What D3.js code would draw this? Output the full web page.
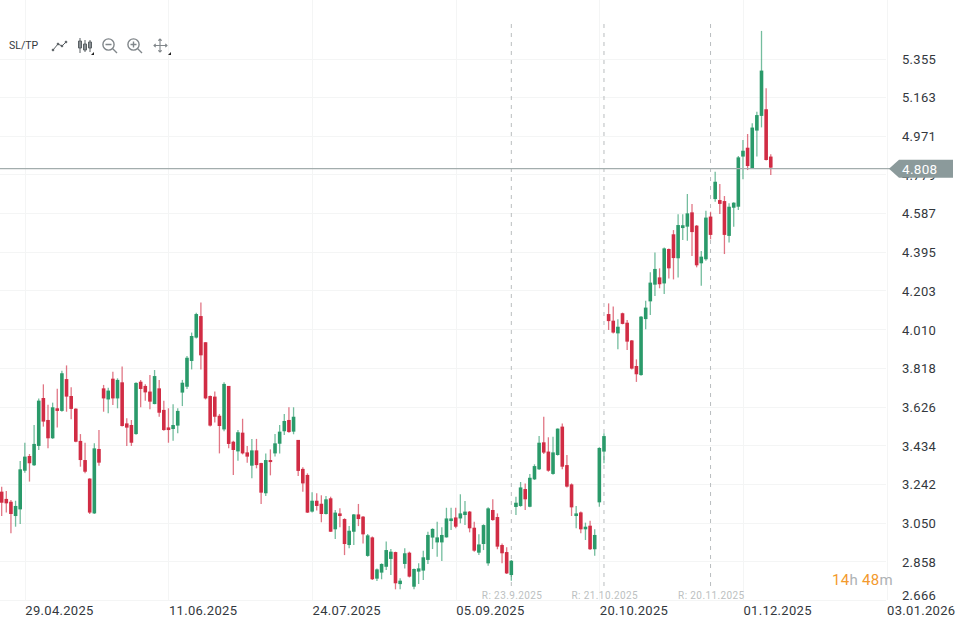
<!DOCTYPE html>
<html><head><meta charset="utf-8">
<style>
html,body{margin:0;padding:0;background:#fff}
svg{display:block}
text{font-family:Roboto,sans-serif}
.tick line,.domain{display:none}
</style>
<script src="https://cdn.jsdelivr.net/npm/d3@7"></script>
</head><body><svg id="c" width="966" height="623"></svg>
<script>
const opens=[3.204,3.168,3.154,3.083,3.116,3.308,3.381,3.335,3.431,3.669,3.560,3.469,3.618,3.605,3.763,3.679,3.616,3.456,3.361,3.269,3.096,3.416,3.717,3.662,3.765,3.667,3.747,3.543,3.535,3.490,3.750,3.729,3.701,3.639,3.717,3.610,3.523,3.515,3.532,3.696,3.725,3.853,3.969,
4.076,3.946,3.679,3.676,3.581,3.513,3.729,3.452,3.404,3.497,3.399,3.333,3.409,3.346,3.196,3.361,3.394,3.442,3.504,3.560,3.502,3.461,3.317,3.287,3.105,3.159,3.144,3.093,3.171,3.017,3.096,3.068,2.939,3.005,3.091,3.080,2.885,2.977,2.772,2.802,
2.831,2.870,2.904,2.745,2.845,2.901,2.732,2.807,2.812,2.865,2.976,2.952,2.952,2.977,3.058,3.076,3.071,3.088,3.105,3.025,2.901,2.944,2.848,3.113,3.078,2.939,2.904,2.790,3.128,3.133,3.217,3.129,3.265,3.315,3.449,3.403,3.292,3.386,3.527,3.336,3.240,3.083,3.101,3.017,3.035,2.918,3.151,3.403,
4.086,4.053,3.990,4.090,4.043,3.955,3.828,3.783,4.061,4.149,4.232,4.268,4.238,4.409,4.482,4.363,4.513,4.520,4.591,4.525,4.338,4.358,4.570,
4.657,4.652,4.647,4.474,4.614,4.619,4.868,4.912,4.810,4.997,5.070,5.103,4.868];
const closes=[3.149,3.146,3.093,3.133,3.315,3.378,3.345,3.441,3.656,3.552,3.469,3.623,3.605,3.792,3.676,3.615,3.452,3.361,3.303,3.100,3.419,3.348,3.667,3.706,3.667,3.759,3.530,3.522,3.447,3.744,3.714,3.697,3.651,3.778,3.596,3.510,3.510,3.535,3.605,3.745,3.869,3.977,4.086,
3.881,3.667,3.532,3.576,3.530,3.739,3.441,3.411,3.499,3.394,3.378,3.409,3.336,3.199,3.361,3.351,3.444,3.502,3.555,3.500,3.576,3.307,3.245,3.100,3.159,3.133,3.093,3.166,3.005,3.100,3.083,2.944,3.010,3.091,3.068,2.992,2.987,2.769,2.818,2.845,
2.914,2.906,2.749,2.762,2.898,2.782,2.820,2.823,2.878,2.989,3.019,2.977,2.989,3.071,3.071,3.030,3.096,3.105,3.022,2.911,2.942,3.038,3.121,3.063,2.931,2.898,2.798,2.861,3.149,3.225,3.166,3.273,3.331,3.447,3.398,3.308,3.399,3.517,3.328,3.229,3.126,3.096,3.017,3.030,2.918,2.989,3.421,3.480,
4.051,3.994,4.023,4.037,3.949,3.815,3.787,4.073,4.118,4.242,4.310,4.234,4.412,4.313,4.364,4.528,4.527,4.586,4.493,4.328,4.371,4.565,4.479,
4.743,4.633,4.479,4.619,4.639,4.864,4.897,4.821,5.012,5.074,5.295,4.851,4.813];
const highs=[3.229,3.207,3.163,3.159,3.356,3.447,3.391,3.535,3.667,3.737,3.636,3.646,3.715,3.805,3.831,3.722,3.618,3.490,3.447,3.270,3.444,3.510,3.734,3.720,3.800,3.767,3.825,3.568,3.560,3.747,3.759,3.737,3.783,3.808,3.759,3.656,3.618,3.638,3.618,3.759,3.878,3.994,4.093,
4.143,3.946,3.681,3.701,3.590,3.747,3.729,3.457,3.510,3.566,3.431,3.466,3.466,3.348,3.394,3.414,3.490,3.535,3.590,3.623,3.623,3.461,3.325,3.295,3.201,3.196,3.186,3.182,3.179,3.113,3.121,3.072,3.033,3.093,3.143,3.083,2.994,2.981,2.823,2.848,
2.956,2.919,2.906,2.774,2.923,2.906,2.823,2.848,2.911,3.005,3.022,3.055,3.027,3.124,3.124,3.124,3.191,3.158,3.108,3.055,2.992,3.042,3.126,3.166,3.096,2.947,2.928,2.865,3.179,3.252,3.245,3.292,3.340,3.480,3.576,3.474,3.477,3.518,3.543,3.386,3.245,3.133,3.105,3.050,3.060,3.017,3.424,3.494,
4.139,4.123,4.060,4.093,4.056,3.957,3.861,4.076,4.152,4.293,4.392,4.313,4.416,4.412,4.503,4.581,4.581,4.682,4.632,4.528,4.399,4.599,4.594,
4.793,4.732,4.672,4.636,4.641,4.871,4.950,4.980,5.033,5.091,5.492,5.207,4.879];
const lows=[3.083,3.100,2.997,3.030,3.043,3.298,3.254,3.331,3.411,3.527,3.419,3.466,3.522,3.601,3.601,3.563,3.449,3.328,3.295,3.093,3.093,3.333,3.601,3.593,3.634,3.618,3.527,3.431,3.431,3.487,3.623,3.656,3.613,3.638,3.576,3.507,3.447,3.457,3.494,3.629,3.714,3.811,3.964,
3.811,3.662,3.527,3.547,3.394,3.504,3.419,3.287,3.358,3.389,3.348,3.270,3.320,3.143,3.182,3.285,3.378,3.394,3.485,3.497,3.489,3.282,3.204,3.098,3.100,3.110,3.052,3.091,3.004,2.969,3.027,2.889,2.923,2.939,3.033,2.947,2.881,2.765,2.760,2.769,
2.815,2.790,2.719,2.719,2.823,2.778,2.719,2.745,2.765,2.845,2.919,2.881,2.860,2.976,3.014,3.022,3.047,3.038,3.002,2.906,2.889,2.914,2.836,3.060,2.918,2.848,2.795,2.762,3.088,3.129,3.113,3.126,3.262,3.312,3.391,3.303,3.288,3.383,3.315,3.225,3.083,3.022,2.997,2.964,2.914,2.886,3.129,3.345,
4.007,3.990,3.911,4.035,3.907,3.811,3.749,3.780,4.010,4.081,4.176,4.214,4.186,4.263,4.258,4.268,4.454,4.450,4.374,4.318,4.227,4.351,4.457,
4.644,4.583,4.384,4.441,4.520,4.603,4.755,4.801,4.806,4.868,5.013,4.848,4.776];
const priceTicks=[5.355,5.163,4.971,4.779,4.587,4.395,4.203,4.010,3.818,3.626,3.434,3.242,3.050,2.858,2.666];
const dateBars=[5,36,67,98,129,160,191];
const dateLabels=["29.04.2025","11.06.2025","24.07.2025","05.09.2025","20.10.2025","01.12.2025","03.01.2026"];
const rollBars=[110,130,153];
const rollLabels=["R: 23.9.2025","R: 21.10.2025","R: 20.11.2025"];
const lastPrice=4.808;

const svg=d3.select("#c");
const x=d3.scaleLinear().domain([0,191]).range([1.67,886.6]);
const y=d3.scaleLinear().domain([2.666,5.355]).range([600,58.5]);
const UP="#2a9a6a",DOWN="#d12c44",TXT="#33383d";

// grid
svg.append("g").selectAll("line").data(priceTicks).join("line")
 .attr("x1",0).attr("x2",886).attr("y1",d=>Math.round(y(d))+.5).attr("y2",d=>Math.round(y(d))+.5)
 .attr("stroke","#f4f5f5");
svg.append("g").selectAll("line").data(dateBars).join("line")
 .attr("x1",d=>Math.round(x(d))+.5).attr("x2",d=>Math.round(x(d))+.5).attr("y1",0).attr("y2",600)
 .attr("stroke","#f4f5f5");

// roll markers
svg.append("g").selectAll("line").data(rollBars).join("line")
 .attr("x1",d=>x(d)).attr("x2",d=>x(d)).attr("y1",24).attr("y2",586)
 .attr("stroke","#b9bdbf").attr("stroke-dasharray","4 5").attr("stroke-width",1);
svg.append("g").selectAll("text").data(rollBars).join("text")
 .attr("x",(d)=>x(d)+.8).attr("y",598.5).attr("text-anchor","middle")
 .attr("font-size",10).attr("letter-spacing",.4).attr("fill","#bcbfc1").text((d,i)=>rollLabels[i]);

// candles
const bars=d3.range(opens.length);
const col=i=>closes[i]>=opens[i]?UP:DOWN;
svg.append("g").selectAll("line").data(bars).join("line")
 .attr("x1",i=>x(i)).attr("x2",i=>x(i)).attr("y1",i=>y(highs[i])).attr("y2",i=>y(lows[i]))
 .attr("stroke",col).attr("stroke-width",1.3).attr("stroke-opacity",.65);
svg.append("g").selectAll("rect").data(bars).join("rect")
 .attr("x",i=>x(i)-1.8).attr("width",3.6)
 .attr("y",i=>y(Math.max(opens[i],closes[i])))
 .attr("height",i=>Math.max(1.5,Math.abs(y(opens[i])-y(closes[i]))))
 .attr("fill",col);

// axes
const yAxis=d3.axisRight(y).tickValues(priceTicks).tickSize(0).tickPadding(0).tickFormat(d3.format(".3f"));
const gy=svg.append("g").attr("transform","translate(902,0)").call(yAxis);
gy.selectAll("text").attr("x",0).attr("font-size",13).attr("letter-spacing",.3).attr("fill",TXT)
 .attr("dy",d=>d===2.666?"-0.05em":"0.36em");
const xAxis=d3.axisBottom(x).tickValues(dateBars).tickSize(0).tickPadding(0).tickFormat((d,i)=>dateLabels[i]);
const gx=svg.append("g").attr("transform","translate(0,605)").call(xAxis);
gx.selectAll("text").attr("text-anchor","start").attr("x",0).attr("y",0).attr("dy","0.8em").attr("font-size",13).attr("letter-spacing",.3).attr("fill",TXT);

// last price
const ly=y(lastPrice);
svg.append("line").attr("x1",0).attr("x2",892).attr("y1",ly).attr("y2",ly).attr("stroke","#a3adad").attr("stroke-width",1.4);
svg.append("path").attr("d",`M889,${ly}L899,${ly-9}H953V${ly+9}H899Z`).attr("fill","#8b9a9b");
svg.append("text").attr("x",902).attr("y",ly).attr("dy","0.36em").attr("font-size",13.5).attr("letter-spacing",.3).attr("fill","#fff").text(d3.format(".3f")(lastPrice));

// countdown
const cd=svg.append("text").attr("x",832).attr("y",584.5).attr("font-size",15).attr("letter-spacing",.3).attr("fill","#f39a2d");
cd.append("tspan").text("14");
cd.append("tspan").attr("fill","#aeb2b4").text("h ");
cd.append("tspan").text("48");
cd.append("tspan").attr("fill","#aeb2b4").text("m");

// toolbar
svg.append("text").attr("x",9).attr("y",49).attr("font-size",10.5).attr("fill",TXT).text("SL/TP");
const tb=svg.append("g").attr("fill","none").attr("stroke","#5a6064").attr("stroke-width",1);
tb.append("path").attr("d","M53,50L58,44L62,46L66,42");
[[53,50],[58,44],[62,46],[66,42]].forEach(p=>tb.append("circle").attr("cx",p[0]).attr("cy",p[1]).attr("r",.9).attr("fill","#5a6064"));
tb.append("path").attr("d","M80,38V53M85,40V52M90,40V52");
tb.append("path").attr("d","M78.5,41h3v7h-3zM83.5,44h3v6h-3zM88.5,42h3v6h-3z").attr("fill","#8a9094");
svg.append("path").attr("d","M94,52v3h-3z").attr("fill","#222");
const gi=svg.append("g").attr("fill","none").attr("stroke","#80868a").attr("stroke-width",1.4);
gi.append("circle").attr("cx",108.5).attr("cy",44.5).attr("r",5.6);
gi.append("path").attr("d","M112.5,48.5L117,53M105.5,44.5h6");
gi.append("circle").attr("cx",133.5).attr("cy",44.5).attr("r",5.6);
gi.append("path").attr("d","M137.5,48.5L142,53M130.5,44.5h6M133.5,41.5v6");
gi.append("path").attr("d","M160,39V52M154,45.5H167M158.3,40.7L160,39L161.7,40.7M158.3,50.3L160,52L161.7,50.3M155.7,43.8L154,45.5L155.7,47.2M165.3,43.8L167,45.5L165.3,47.2").attr("stroke-width",1.1);
svg.append("path").attr("d","M171,52v3h-3z").attr("fill","#222");
</script></body></html>
